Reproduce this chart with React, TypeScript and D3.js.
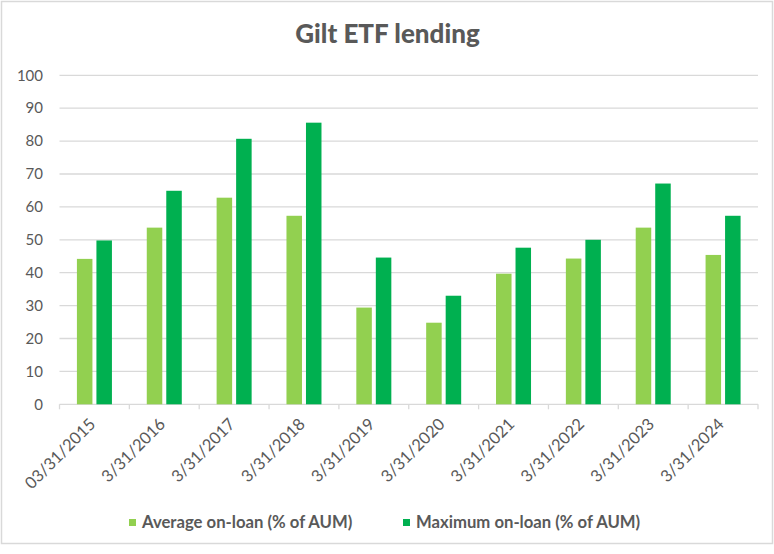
import { useEffect, useRef } from "react";
import * as d3 from "d3";

const categories = [
  "03/31/2015",
  "3/31/2016",
  "3/31/2017",
  "3/31/2018",
  "3/31/2019",
  "3/31/2020",
  "3/31/2021",
  "3/31/2022",
  "3/31/2023",
  "3/31/2024",
];
const averageOnLoan = [44.2, 53.7, 62.8, 57.3, 29.4, 24.8, 39.7, 44.3, 53.7, 45.4];
const maximumOnLoan = [49.8, 64.9, 80.7, 85.6, 44.6, 33.0, 47.6, 50.0, 67.1, 57.3];
const seriesNames = ["Average on-loan (% of AUM)", "Maximum on-loan (% of AUM)"];
const seriesColors = ["#92d050", "#00b050"];
const yTicks = [0, 10, 20, 30, 40, 50, 60, 70, 80, 90, 100];

const W = 774;
const H = 554;
const FONT = "Lato, 'Open Sans', sans-serif";

export default function App() {
  const svgRef = useRef<SVGSVGElement | null>(null);

  useEffect(() => {
    if (!svgRef.current) return;
    const svg = d3.select(svgRef.current);
    svg.selectAll("*").remove();

    const left = 59.5;
    const right = 758;
    const y = d3.scaleLinear().domain([0, 100]).range([404.3, 75.3]);
    const x = d3.scaleBand<string>().domain(categories).range([left, right]).padding(0);
    const inner = d3
      .scaleBand<number>()
      .domain([0, 1])
      .range([0, x.bandwidth()])
      .paddingInner(0.205)
      .paddingOuter(0.893);

    // chart border
    svg
      .append("rect")
      .attr("x", 1.5)
      .attr("y", 1.5)
      .attr("width", W - 3)
      .attr("height", 542)
      .attr("fill", "#fff")
      .attr("stroke", "#d9d9d9")
      .attr("stroke-width", 1.5);

    // title
    svg
      .append("text")
      .attr("x", 387.5)
      .attr("y", 43)
      .attr("text-anchor", "middle")
      .attr("font-family", FONT)
      .attr("font-weight", 900)
      .attr("font-size", 26)
      .attr("fill", "#595959")
      .text("Gilt ETF lending");

    // gridlines + y labels
    const g = svg.append("g");
    g.selectAll("line.grid")
      .data(yTicks)
      .enter()
      .append("line")
      .attr("x1", left)
      .attr("x2", right)
      .attr("y1", (d) => y(d))
      .attr("y2", (d) => y(d))
      .attr("stroke", "#d9d9d9")
      .attr("stroke-width", 1.3);

    g.selectAll("text.ylab")
      .data(yTicks)
      .enter()
      .append("text")
      .attr("x", 43)
      .attr("y", (d) => y(d))
      .attr("dy", "0.35em")
      .attr("text-anchor", "end")
      .attr("font-family", FONT)
      .attr("font-size", 15)
      .attr("fill", "#595959")
      .text((d) => d);

    // category tick marks
    const bounds = categories.map((c) => x(c) as number).concat([right]);
    g.selectAll("line.tick")
      .data(bounds)
      .enter()
      .append("line")
      .attr("x1", (d) => d)
      .attr("x2", (d) => d)
      .attr("y1", y(0))
      .attr("y2", y(0) + 5)
      .attr("stroke", "#d9d9d9")
      .attr("stroke-width", 1.3);

    // bars
    [averageOnLoan, maximumOnLoan].forEach((vals, si) => {
      svg
        .append("g")
        .selectAll("rect")
        .data(vals)
        .enter()
        .append("rect")
        .attr("x", (_, i) => (x(categories[i]) as number) + (inner(si) as number))
        .attr("width", inner.bandwidth())
        .attr("y", (d) => y(d))
        .attr("height", (d) => y(0) - y(d))
        .attr("fill", seriesColors[si]);
    });

    // x labels
    svg
      .append("g")
      .selectAll("text")
      .data(categories)
      .enter()
      .append("text")
      .attr("font-family", FONT)
      .attr("font-size", 16.5)
      .attr("fill", "#595959")
      .attr("text-anchor", "end")
      .attr(
        "transform",
        (d) => `translate(${(x(d) as number) + x.bandwidth() / 2 + 2},${y(0) + 21}) rotate(-45)`
      )
      .text((d) => d);

    // legend
    const legendX = [129, 403];
    seriesNames.forEach((name, i) => {
      const lg = svg.append("g").attr("transform", `translate(${legendX[i]},519)`);
      lg.append("rect").attr("width", 7).attr("height", 7).attr("fill", seriesColors[i]);
      lg.append("text")
        .attr("x", 13)
        .attr("y", 8.5)
        .attr("font-family", FONT)
        .attr("font-weight", "bold")
        .attr("font-size", 16.7)
        .attr("fill", "#595959")
        .text(name);
    });
  }, []);

  return (
    <svg
      ref={svgRef}
      width={W}
      height={H}
      style={{ position: "absolute", left: 0, top: 0, background: "#fff" }}
    />
  );
}
